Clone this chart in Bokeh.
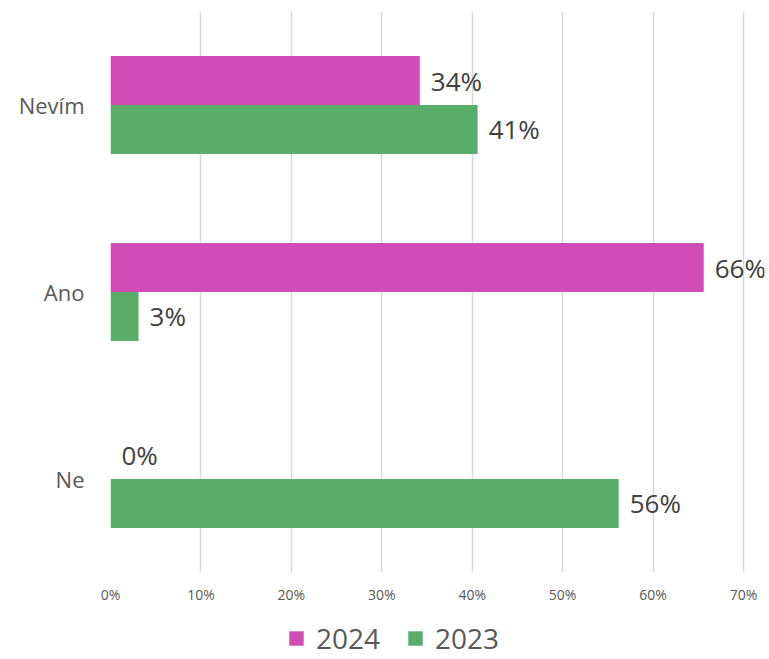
from bokeh.plotting import figure
from bokeh.layouts import column
from bokeh.models import ColumnDataSource, FactorRange, Range1d, Legend, LegendItem, FixedTicker, CustomJSTickFormatter
from bokeh.transform import dodge
from bokeh.core.properties import value
from bokeh.embed import file_html
from bokeh.resources import INLINE

categories = ["Ne", "Ano", "Nevím"]
series = ["2024", "2023"]
values_2024 = [0.0, 65.6, 34.2]
values_2023 = [56.2, 3.1, 40.6]
labels_2024 = ["0%", "66%", "34%"]
labels_2023 = ["56%", "3%", "41%"]
x_ticks = [0, 10, 20, 30, 40, 50, 60, 70]
colors = ["#D24CB8", "#5AAE69"]

FONT = "Open Sans"

src = ColumnDataSource(dict(cat=categories, v24=values_2024, v23=values_2023,
                            l24=labels_2024, l23=labels_2023))

W, H1, H2 = 766, 606, 51
LEFT, RIGHT, TOP, BOTTOM = 110, 2, 11, 33
frame_w = W - LEFT - RIGHT
x_end = 70 * frame_w / 633.0  # 70% gridline sits 633 px right of the frame's left edge

p = figure(width=W, height=H1, y_range=FactorRange(*categories),
           x_range=Range1d(0, x_end), output_backend="svg", toolbar_location=None,
           min_border_left=LEFT, min_border_right=RIGHT, min_border_top=TOP,
           min_border_bottom=BOTTOM)
p.outline_line_color = None
p.background_fill_color = "white"
p.border_fill_color = "white"

bh = 0.262
p.hbar(y=dodge("cat", bh / 2, range=p.y_range), right="v24", left=0, height=bh,
       source=src, color=colors[0], line_color=None)
p.hbar(y=dodge("cat", -bh / 2, range=p.y_range), right="v23", left=0, height=bh,
       source=src, color=colors[1], line_color=None)

p.text(x="v24", y=dodge("cat", bh / 2, range=p.y_range), text="l24", source=src,
       x_offset=11, text_baseline="middle", text_align="left",
       text_font=value(FONT), text_font_size="26px", text_color="#404040")
p.text(x="v23", y=dodge("cat", -bh / 2, range=p.y_range), text="l23", source=src,
       x_offset=11, text_baseline="middle", text_align="left",
       text_font=value(FONT), text_font_size="26px", text_color="#404040")

# x axis
p.xaxis.ticker = FixedTicker(ticks=x_ticks)
p.xaxis.formatter = CustomJSTickFormatter(code="return tick + '%';")
p.xaxis.axis_line_color = None
p.xaxis.major_tick_line_color = None
p.xaxis.minor_tick_line_color = None
p.xaxis.major_tick_out = 0
p.xaxis.minor_tick_out = 0
p.xaxis.major_label_standoff = 12
p.xaxis.major_label_text_font = FONT
p.xaxis.major_label_text_font_size = "14px"
p.xaxis.major_label_text_color = "#595959"

# y axis
p.yaxis.axis_line_color = None
p.yaxis.major_tick_line_color = None
p.yaxis.minor_tick_line_color = None
p.yaxis.major_tick_out = 0
p.yaxis.minor_tick_out = 0
p.yaxis.major_label_standoff = 26
p.yaxis.major_label_text_font = FONT
p.yaxis.major_label_text_font_size = "22px"
p.yaxis.major_label_text_color = "#595959"

p.xgrid.grid_line_color = "#D9D9D9"
p.xgrid.grid_line_width = 1.5
p.ygrid.grid_line_color = None

# legend strip: zero-height bars (draw nothing) that only provide the legend swatches
p2 = figure(width=W, height=H2, x_range=Range1d(0, x_end), y_range=FactorRange(*categories),
            output_backend="svg", toolbar_location=None,
            min_border_left=LEFT, min_border_right=RIGHT, min_border_top=0, min_border_bottom=0)
p2.axis.visible = False
p2.grid.visible = False
p2.outline_line_color = None
k24 = p2.hbar(y="cat", right="v24", left=0, height=0, source=src,
              color=colors[0], line_color=None)
k23 = p2.hbar(y="cat", right="v23", left=0, height=0, source=src,
              color=colors[1], line_color=None)

legend = Legend(items=[LegendItem(label=series[0], renderers=[k24]),
                       LegendItem(label=series[1], renderers=[k23])],
                orientation="horizontal", location=(287 - LEFT, 0),
                padding=0, margin=0, spacing=26, label_standoff=11,
                glyph_width=18, glyph_height=18,
                label_text_font=FONT, label_text_font_size="28px",
                label_text_color="#595959", border_line_color=None,
                background_fill_alpha=0)
p2.add_layout(legend, "center")

layout = column(p, p2, spacing=0)
open("out.html", "w").write(file_html(layout, INLINE))
